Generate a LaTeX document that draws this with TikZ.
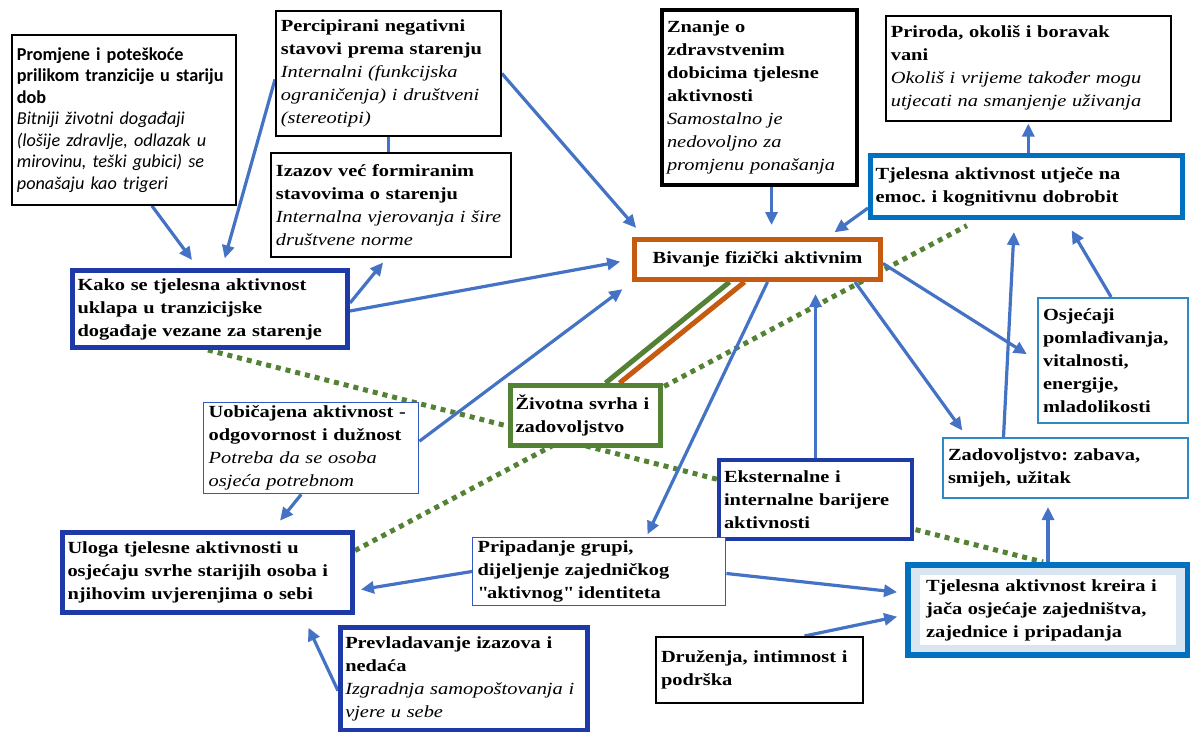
\documentclass[tikz,border=0pt]{standalone}
\usepackage{fontspec}
\setmainfont[FakeStretch=1.2]{Liberation Serif}
\newfontfamily\calib{Carlito}
\usetikzlibrary{arrows.meta,backgrounds}

\definecolor{arrowblue}{RGB}{68,114,196}
\definecolor{darkblue}{RGB}{30,58,168}
\definecolor{midblue}{RGB}{0,112,192}
\definecolor{lightblue}{RGB}{46,138,196}
\definecolor{thinblue}{RGB}{50,90,190}
\definecolor{rust}{RGB}{197,90,17}
\definecolor{leaf}{RGB}{84,130,53}
\definecolor{band}{RGB}{218,229,242}

\frenchspacing
\hyphenpenalty=10000

% straight double quote, set as a glyph so that it is not turned into a curly one
\newcommand\strq{\XeTeXglyph\numexpr\XeTeXcharglyph"22\relax}

\tikzset{
  box/.style={draw=black, line width=1.8pt, fill=white, anchor=north west, align=left,
    inner xsep=5pt, inner ysep=3pt, font=\fontsize{17}{23}\selectfont},
  arr/.style={draw=arrowblue, line width=3.2pt, -{Triangle[length=13pt,width=12pt]}},
  dotline/.style={draw=leaf, line width=5pt, dash pattern=on 5pt off 5pt}
}

\begin{document}
\begin{tikzpicture}[x=1pt,y=-1pt]
\useasboundingbox (0,0) rectangle (1190,731);

% the boxes, placed at their top left corners

\node[box, text width=214pt, minimum height=170pt, font=\calib\fontsize{18.2}{21.5}\selectfont] (prom) at (11,34)
  {\textbf{Promjene i poteškoće\\ prilikom tranzicije u stariju\\ dob}\\ \textit{Bitniji životni događaji\\ (lošije zdravlje, odlazak u\\ mirovinu, teški gubici) se\\ ponašaju kao trigeri}};
\node[box, text width=215pt, minimum height=125pt] (perc) at (275,10)
  {\textbf{Percipirani negativni\\ stavovi prema starenju}\\ \textit{Internalni (funkcijska\\ ograničenja) i društveni\\ (stereotipi)}};
\node[box, text width=230pt, minimum height=104pt] (izaz) at (270,152)
  {\textbf{Izazov već formiranim\\ stavovima o starenju}\\ \textit{Internalna vjerovanja i šire\\ društvene norme}};
\node[box, line width=4pt, text width=185pt, minimum height=175pt] (znanje) at (660,8)
  {\textbf{Znanje o\\ zdravstvenim\\ dobicima tjelesne\\ aktivnosti}\\ \textit{Samostalno je\\ nedovoljno za\\ promjenu ponašanja}};
\node[box, line width=1.6pt, text width=275pt, minimum height=105pt] (priroda) at (885,15)
  {\textbf{Priroda, okoliš i boravak\\ vani}\\ \textit{Okoliš i vrijeme također mogu\\ utjecati na smanjenje uživanja}};
\node[box, draw=midblue, line width=5pt, text width=302pt, minimum height=62pt] (emoc) at (868,153)
  {\textbf{Tjelesna aktivnost utječe na\\ emoc. i kognitivnu dobrobit}};
\node[box, draw=rust, line width=5pt, text width=236pt, minimum height=40pt, align=center] (bivanje) at (632,237)
  {\textbf{Bivanje fizički aktivnim}};
\node[box, draw=darkblue, line width=5pt, text width=265pt, minimum height=77pt] (kako) at (70,268)
  {\textbf{Kako se tjelesna aktivnost\\ uklapa u tranzicijske\\ događaje vezane za starenje}};
\node[box, draw=leaf, line width=5pt, text width=140pt, minimum height=60pt] (svrha) at (508,383)
  {\textbf{Životna svrha i\\ zadovoljstvo}};
\node[box, draw=lightblue, line width=2.2pt, text width=140pt, minimum height=125pt] (osjec) at (1037,297)
  {\textbf{Osjećaji\\ pomlađivanja,\\ vitalnosti,\\ energije,\\ mladolikosti}};
\node[box, draw=lightblue, line width=2pt, text width=235pt, minimum height=60pt] (zadov) at (942,437)
  {\textbf{Zadovoljstvo: zabava,\\ smijeh, užitak}};
\node[box, draw=thinblue, line width=1.4pt, text width=205pt, minimum height=91pt] (uobic) at (203,402)
  {\textbf{Uobičajena aktivnost -\\ odgovornost i dužnost}\\ \textit{Potreba da se osoba\\ osjeća potrebnom}};
\node[box, draw=darkblue, line width=4pt, text width=183pt, minimum height=79pt] (barij) at (717,458)
  {\textbf{Eksternalne i\\ internalne barijere\\ aktivnosti}};
\node[box, draw=thinblue, line width=1.4pt, text width=243pt, minimum height=67pt] (pripad) at (472,537)
  {\textbf{Pripadanje grupi,\\ dijeljenje zajedničkog\\ \strq aktivnog\strq\ identiteta}};
\node[box, draw=darkblue, line width=5pt, text width=280pt, minimum height=80pt] (uloga) at (60,530)
  {\textbf{Uloga tjelesne aktivnosti u\\ osjećaju svrhe starijih osoba i\\ njihovim uvjerenjima o sebi}};
\node[box, draw=darkblue, line width=4.5pt, text width=237pt, minimum height=103pt] (prevlad) at (338,625)
  {\textbf{Prevladavanje izazova i\\ nedaća}\\ \textit{Izgradnja samopoštovanja i\\ vjere u sebe}};
\node[box, draw=midblue, line width=6pt, fill=band, inner xsep=18pt, text width=244pt, minimum height=90pt,
  path picture={\fill[white] ([shift={(12pt,-10pt)}]path picture bounding box.north west)
    rectangle ([shift={(-12pt,10pt)}]path picture bounding box.south east);}] (kreira) at (905,562)
  {\textbf{Tjelesna aktivnost kreira i\\ jača osjećaje zajedništva,\\ zajednice i pripadanja}};
\node[box, line width=2pt, text width=197pt, minimum height=66pt] (druz) at (655,636)
  {\textbf{Druženja, intimnost i\\ podrška}};

\begin{pgfonlayer}{background}

% dotted green links, partly hidden by the boxes
\draw[dotline] ([xshift=-2pt]kako.south) -- ([xshift=-5pt]kreira.north);
\draw[dotline, shorten >=12pt] ([yshift=22pt]uloga.east) -- ([xshift=-49pt]emoc.south);

% double link to the purpose box
\draw[leaf, line width=5pt] ([xshift=-28pt]bivanje.south) -- ([xshift=20pt]svrha.north);
\draw[rust, line width=5pt] ([xshift=-13pt]bivanje.south) -- ([xshift=34pt]svrha.north);

% left half
\draw[arr, shorten >=10pt] ([xshift=28pt]prom.south) -- ([xshift=-12pt]kako.north);
\draw[arr, shorten >=10pt] ([yshift=-6pt]perc.west) -- ([xshift=12pt]kako.north);
\draw[arr, shorten >=12pt] (perc.east) -- ([xshift=12pt]bivanje.north west);
\draw[arrowblue, line width=2.6pt] (perc.south) -- (perc.south |- izaz.north);
\draw[arr, shorten >=6pt] ([yshift=6pt]kako.east) -- ([xshift=-4pt]izaz.south);
\draw[arr, shorten >=12pt] ([yshift=-2pt]kako.east) -- (bivanje.west);
\draw[arr, shorten >=12pt] ([yshift=7pt]uobic.east) -- (bivanje.south west);
\draw[arr, shorten >=12pt] ([xshift=-10pt]uobic.south) -- ([xshift=65pt]uloga.north);
\draw[arr, shorten >=6pt] (pripad.west) -- ([yshift=-18pt]uloga.east);
\draw[arr, shorten >=14pt] ([yshift=-12pt]prevlad.west) -- ([xshift=95pt]uloga.south);

% top and right half
\draw[arr, shorten >=12pt] ([xshift=12pt]znanje.south) -- ([xshift=14pt]bivanje.north);
\draw[arr, shorten >=8pt] ([yshift=12pt]emoc.south west) -- ([xshift=-55pt]bivanje.north east);
\draw[arr, shorten >=2pt] (priroda.south |- emoc.north) -- (priroda.south);
\draw[arr, shorten >=12pt] ([yshift=-4pt]bivanje.east) -- (osjec.west);
\draw[arr, shorten >=8pt] ([xshift=-28pt]bivanje.south east) -- ([xshift=25pt]zadov.north west);
\draw[arr, shorten >=3pt] ([xshift=10pt]bivanje.south) -- ([xshift=47pt]pripad.north);
\draw[arr, shorten >=12pt] (barij.north) -- (barij.north |- bivanje.south);
\draw[arr, shorten >=8pt] ([yshift=-2pt]pripad.east) -- ([yshift=17pt]kreira.west);
\draw[arr, shorten >=8pt] ([xshift=45pt]druz.north) -- ([yshift=-5pt]kreira.west);
\draw[arr, shorten >=8pt] (kreira.north) -- (kreira.north |- zadov.south);
\draw[arr, shorten >=12pt] ([xshift=-62pt]zadov.north) -- ([xshift=-12pt]emoc.south);
\draw[arr, shorten >=12pt] ([xshift=-2pt]osjec.north) -- ([xshift=39pt]emoc.south);

\end{pgfonlayer}

\end{tikzpicture}
\end{document}
